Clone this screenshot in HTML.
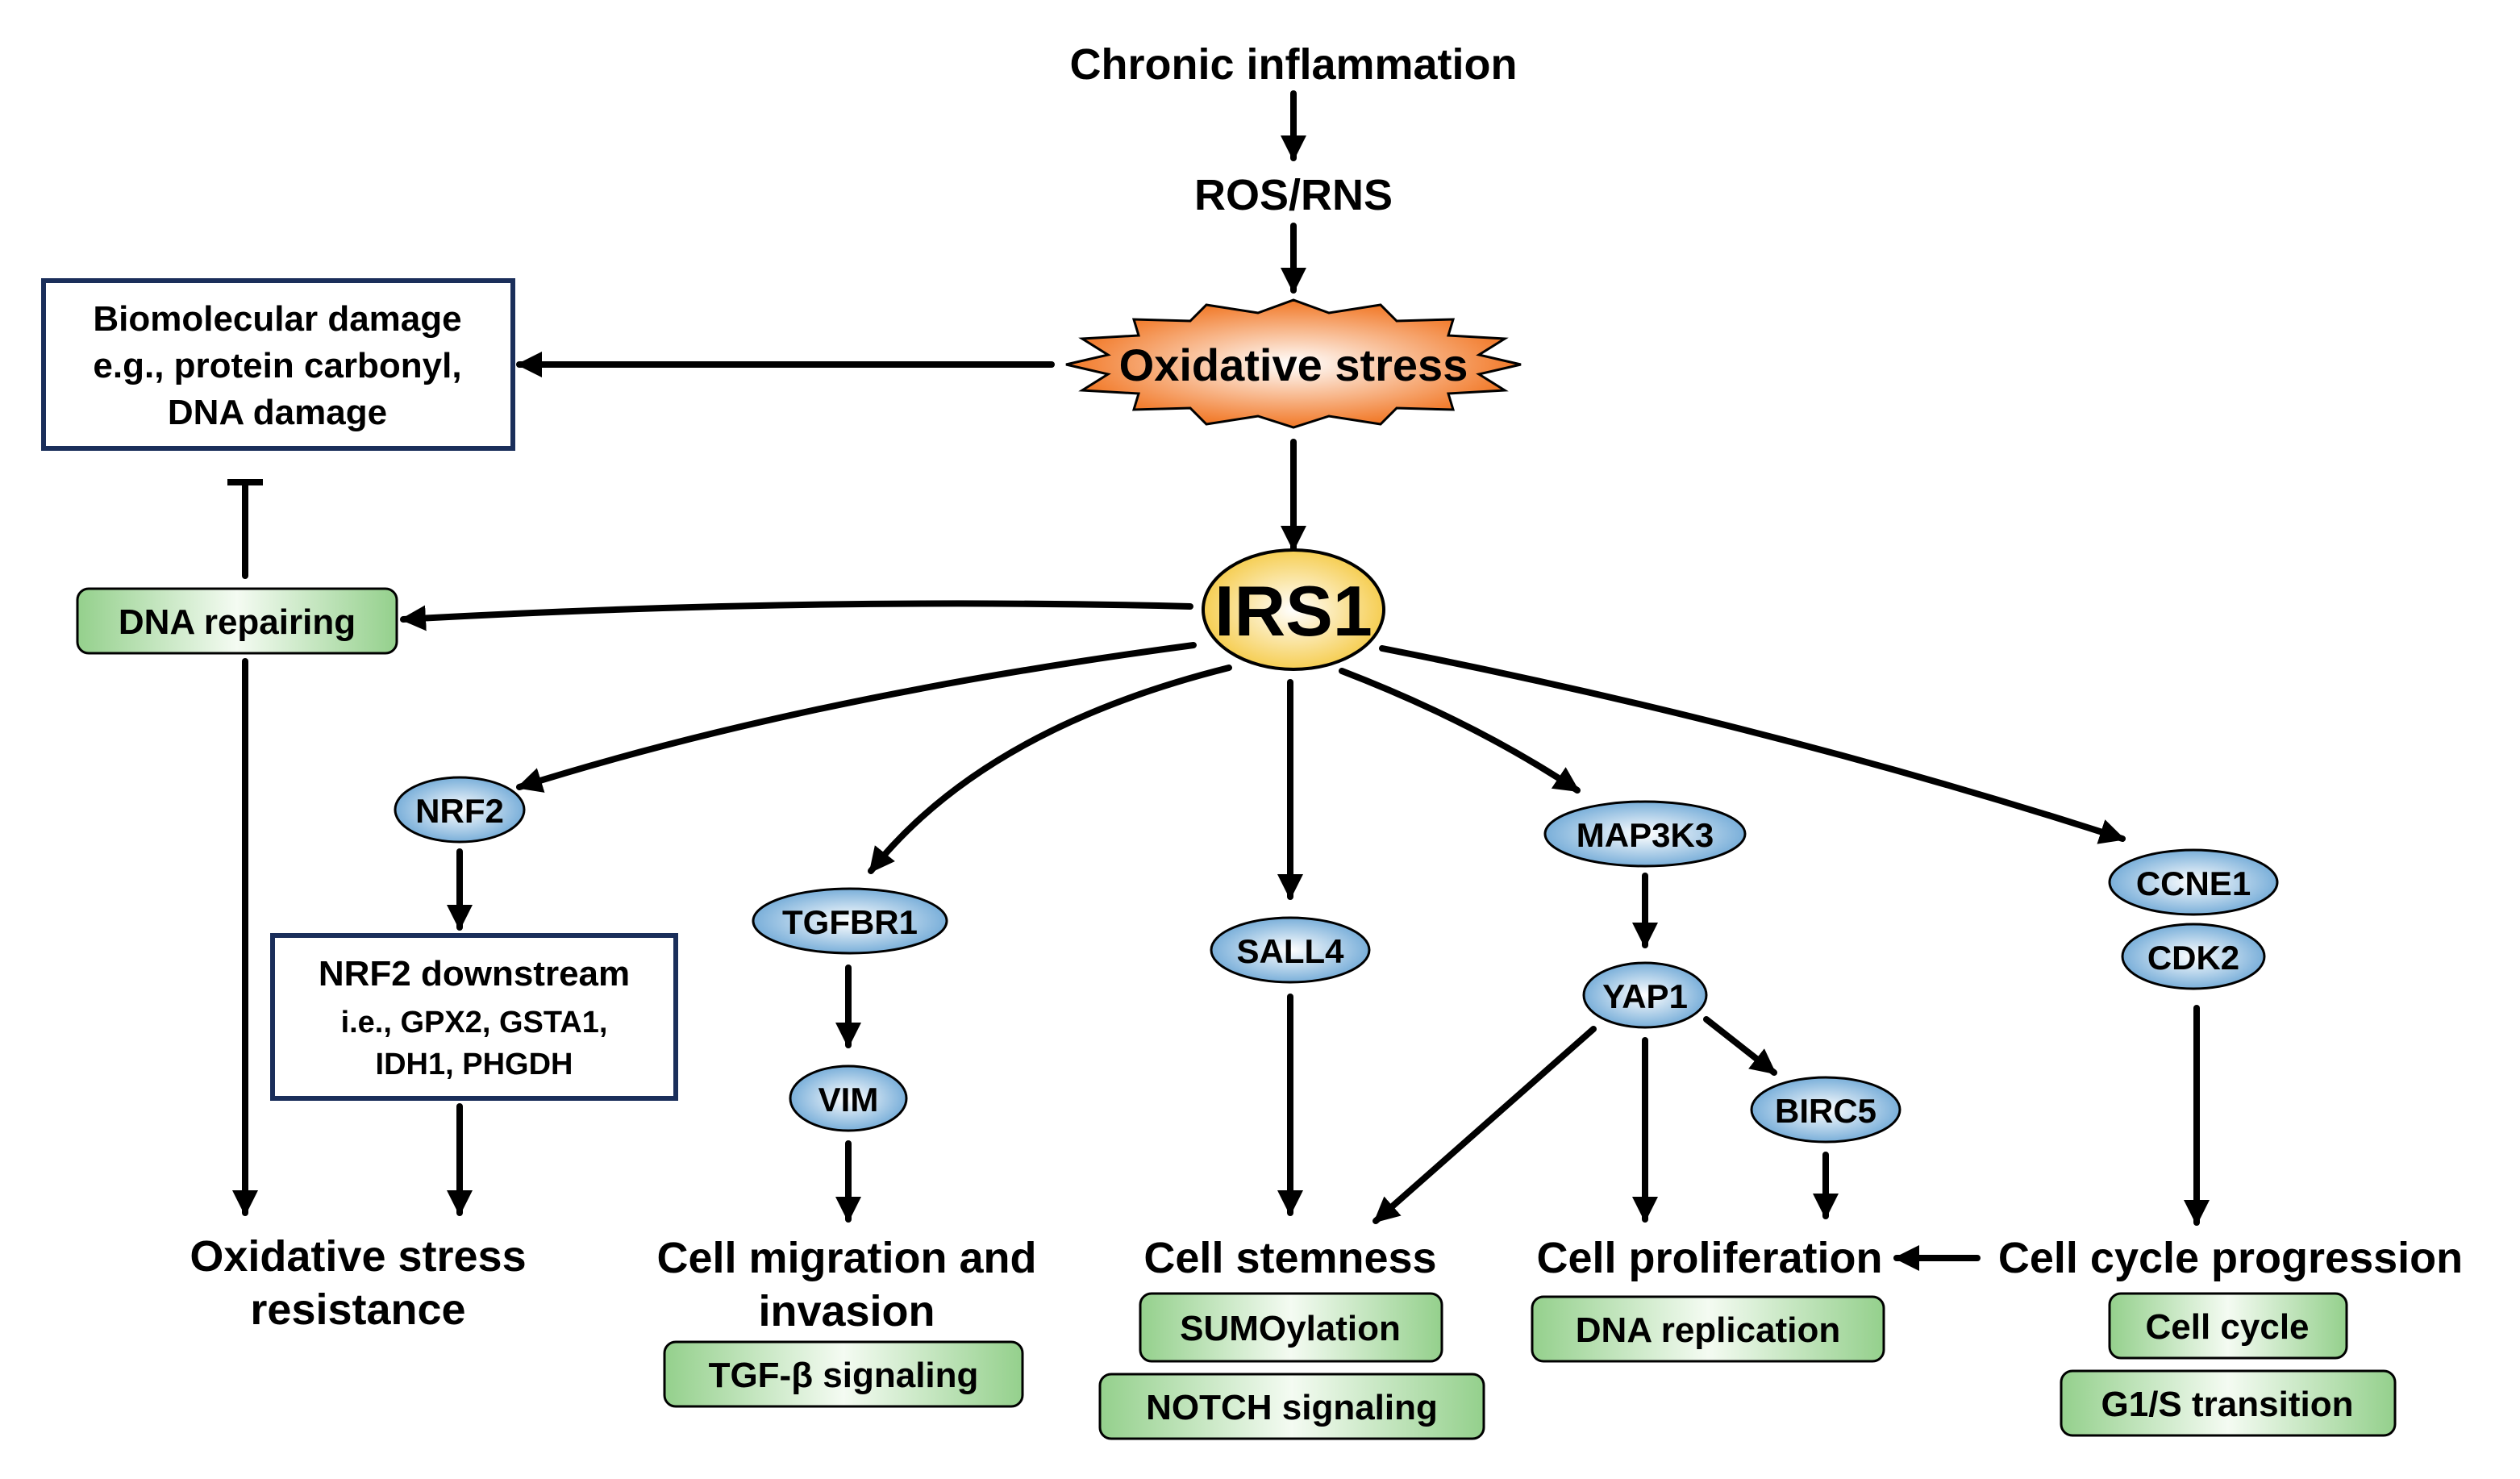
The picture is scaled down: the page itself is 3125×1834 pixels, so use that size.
<!DOCTYPE html>
<html><head><meta charset="utf-8"><style>
html,body{margin:0;padding:0;background:#fff;}
svg{display:block;}
text{font-family:"Liberation Sans",Arial,sans-serif;font-weight:bold;fill:#000;text-anchor:middle;}
</style></head><body>
<svg width="3125" height="1834" viewBox="0 0 1562.5 917" xmlns="http://www.w3.org/2000/svg">
<defs>
<marker id="a" markerUnits="userSpaceOnUse" markerWidth="20" markerHeight="20" refX="14" refY="8" orient="auto"><path d="M0,0 L16,8 L0,16 z" fill="#000"/></marker>
<radialGradient id="blue" cx="50%" cy="50%" r="60%"><stop offset="0" stop-color="#ffffff"/><stop offset="1" stop-color="#5f9fd2"/></radialGradient>
<radialGradient id="yel" cx="50%" cy="50%" r="60%"><stop offset="0" stop-color="#ffffff"/><stop offset="1" stop-color="#f4c430"/></radialGradient>
<radialGradient id="org" cx="50%" cy="50%" r="55%"><stop offset="0" stop-color="#ffffff"/><stop offset="1" stop-color="#f06a10"/></radialGradient>
<linearGradient id="grn" x1="0" x2="1" y1="0" y2="0"><stop offset="0" stop-color="#94d08c"/><stop offset="0.5" stop-color="#f4fbf2"/><stop offset="1" stop-color="#94d08c"/></linearGradient>
</defs>
<g stroke="#000" stroke-width="4" fill="none" stroke-linecap="round">
<line x1="802" y1="58" x2="802" y2="98" marker-end="url(#a)"/>
<line x1="802" y1="140" x2="802" y2="180" marker-end="url(#a)"/>
<line x1="652" y1="226" x2="322" y2="226" marker-end="url(#a)"/>
<line x1="802" y1="274" x2="802" y2="340" marker-end="url(#a)"/>
<path d="M738,376 Q500,370 250,384" marker-end="url(#a)"/>
<line x1="152" y1="357" x2="152" y2="300"/>
<line x1="141" y1="299" x2="163" y2="299" stroke-linecap="butt"/>
<line x1="152" y1="410" x2="152" y2="752" marker-end="url(#a)"/>
<path d="M740,400 Q500,432 322,488" marker-end="url(#a)"/>
<line x1="285" y1="528" x2="285" y2="575" marker-end="url(#a)"/>
<line x1="285" y1="686" x2="285" y2="752" marker-end="url(#a)"/>
<path d="M762,414 Q610,452 540,540" marker-end="url(#a)"/>
<line x1="526" y1="600" x2="526" y2="648" marker-end="url(#a)"/>
<line x1="526" y1="709" x2="526" y2="756" marker-end="url(#a)"/>
<line x1="800" y1="423" x2="800" y2="556" marker-end="url(#a)"/>
<line x1="800" y1="618" x2="800" y2="752" marker-end="url(#a)"/>
<path d="M832,416 Q915,448 978,490" marker-end="url(#a)"/>
<line x1="1020" y1="543" x2="1020" y2="586" marker-end="url(#a)"/>
<line x1="988" y1="638" x2="853" y2="757" marker-end="url(#a)"/>
<line x1="1020" y1="645" x2="1020" y2="756" marker-end="url(#a)"/>
<line x1="1058" y1="632" x2="1100" y2="665" marker-end="url(#a)"/>
<line x1="1132" y1="716" x2="1132" y2="754" marker-end="url(#a)"/>
<path d="M857,402 Q1100,450 1316,520" marker-end="url(#a)"/>
<line x1="1362" y1="625" x2="1362" y2="758" marker-end="url(#a)"/>
<line x1="1226" y1="780" x2="1176" y2="780" marker-end="url(#a)"/>
</g>
<text x="802" y="49" font-size="27">Chronic inflammation</text>
<text x="802" y="130" font-size="27">ROS/RNS</text>
<g transform="translate(802,226)">
<polygon fill="url(#org)" stroke="#000" stroke-width="1.5" points="-141,0 -115,-6 -131,-16 -96,-18 -99,-28 -64,-27 -54,-37 -22,-32 0,-40 22,-32 54,-37 64,-27 99,-28 96,-18 131,-16 115,-6 141,0 115,6 131,16 96,18 99,28 64,27 54,37 22,32 0,39 -22,32 -54,37 -64,27 -99,28 -96,18 -131,16 -115,6"/>
</g>
<text x="802" y="236" font-size="28">Oxidative stress</text>
<rect x="27" y="174" width="291" height="104" fill="#fff" stroke="#1a2e5a" stroke-width="3"/>
<text x="172" y="205" font-size="22">Biomolecular damage</text>
<text x="172" y="234" font-size="22">e.g., protein carbonyl,</text>
<text x="172" y="263" font-size="22">DNA damage</text>
<ellipse cx="802" cy="378" rx="56" ry="37" fill="url(#yel)" stroke="#000" stroke-width="2"/>
<text x="802" y="394" font-size="44">IRS1</text>
<rect x="48" y="365" width="198" height="40" rx="7" fill="url(#grn)" stroke="#000" stroke-width="1.5"/>
<text x="147" y="393" font-size="22">DNA repairing</text>
<ellipse cx="285" cy="502" rx="40" ry="20" fill="url(#blue)" stroke="#000" stroke-width="1.5"/>
<text x="285" y="510" font-size="21">NRF2</text>
<rect x="169" y="580" width="250" height="101" fill="#fff" stroke="#1a2e5a" stroke-width="3"/>
<text x="294" y="611" font-size="22">NRF2 downstream</text>
<text x="294" y="640" font-size="19">i.e., GPX2, GSTA1,</text>
<text x="294" y="666" font-size="19">IDH1, PHGDH</text>
<text x="222" y="788" font-size="27">Oxidative stress</text>
<text x="222" y="821" font-size="27">resistance</text>
<ellipse cx="527" cy="571" rx="60" ry="20" fill="url(#blue)" stroke="#000" stroke-width="1.5"/>
<text x="527" y="579" font-size="21">TGFBR1</text>
<ellipse cx="526" cy="681" rx="36" ry="20" fill="url(#blue)" stroke="#000" stroke-width="1.5"/>
<text x="526" y="689" font-size="21">VIM</text>
<text x="525" y="789" font-size="27">Cell migration and</text>
<text x="525" y="822" font-size="27">invasion</text>
<rect x="412" y="832" width="222" height="40" rx="7" fill="url(#grn)" stroke="#000" stroke-width="1.5"/>
<text x="523" y="860" font-size="22">TGF-β signaling</text>
<ellipse cx="800" cy="589" rx="49" ry="20" fill="url(#blue)" stroke="#000" stroke-width="1.5"/>
<text x="800" y="597" font-size="21">SALL4</text>
<text x="800" y="789" font-size="27">Cell stemness</text>
<rect x="707" y="802" width="187" height="42" rx="7" fill="url(#grn)" stroke="#000" stroke-width="1.5"/>
<text x="800" y="831" font-size="22">SUMOylation</text>
<rect x="682" y="852" width="238" height="40" rx="7" fill="url(#grn)" stroke="#000" stroke-width="1.5"/>
<text x="801" y="880" font-size="22">NOTCH signaling</text>
<ellipse cx="1020" cy="517" rx="62" ry="20" fill="url(#blue)" stroke="#000" stroke-width="1.5"/>
<text x="1020" y="525" font-size="21">MAP3K3</text>
<ellipse cx="1020" cy="617" rx="38" ry="20" fill="url(#blue)" stroke="#000" stroke-width="1.5"/>
<text x="1020" y="625" font-size="21">YAP1</text>
<ellipse cx="1132" cy="688" rx="46" ry="20" fill="url(#blue)" stroke="#000" stroke-width="1.5"/>
<text x="1132" y="696" font-size="21">BIRC5</text>
<text x="1060" y="789" font-size="27">Cell proliferation</text>
<rect x="950" y="804" width="218" height="40" rx="7" fill="url(#grn)" stroke="#000" stroke-width="1.5"/>
<text x="1059" y="832" font-size="22">DNA replication</text>
<ellipse cx="1360" cy="547" rx="52" ry="20" fill="url(#blue)" stroke="#000" stroke-width="1.5"/>
<text x="1360" y="555" font-size="21">CCNE1</text>
<ellipse cx="1360" cy="593" rx="44" ry="20" fill="url(#blue)" stroke="#000" stroke-width="1.5"/>
<text x="1360" y="601" font-size="21">CDK2</text>
<text x="1383" y="789" font-size="27">Cell cycle progression</text>
<rect x="1308" y="802" width="147" height="40" rx="7" fill="url(#grn)" stroke="#000" stroke-width="1.5"/>
<text x="1381" y="830" font-size="22">Cell cycle</text>
<rect x="1278" y="850" width="207" height="40" rx="7" fill="url(#grn)" stroke="#000" stroke-width="1.5"/>
<text x="1381" y="878" font-size="22">G1/S transition</text>
</svg>
</body></html>
